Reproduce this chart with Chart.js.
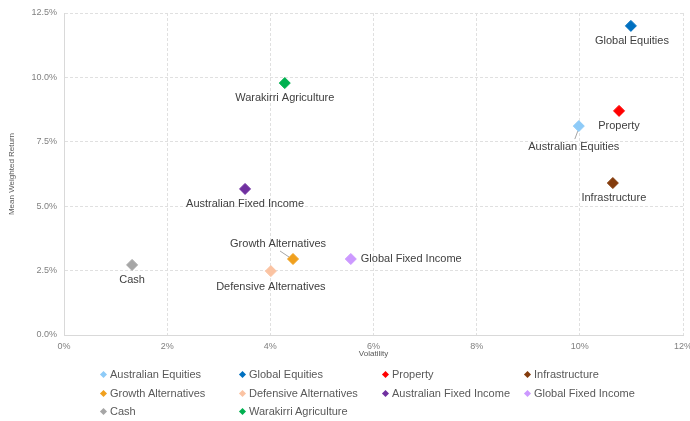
<!DOCTYPE html>
<html>
<head>
<meta charset="utf-8">
<script src="https://cdn.jsdelivr.net/npm/chart.js@4.4.1/dist/chart.umd.min.js"></script>
<style>
  body { margin: 0; background: #fff; }
  #wrap { position: relative; width: 690px; height: 421px; }
  #legend { position: absolute; left: 0; top: 0; width: 690px; height: 421px; pointer-events: none;
            font-family: "Liberation Sans", Arial, sans-serif; font-size: 11px; color: #595959; }
  .item { position: absolute; white-space: nowrap; line-height: 14px; }
  .mark { display: inline-block; width: 5px; height: 5px; transform: rotate(45deg); margin-right: 4px; vertical-align: 1px; }
</style>
</head>
<body>
<div id="wrap">
  <canvas id="riskChart" width="690" height="421"></canvas>
  <div id="legend"></div>
</div>
<script>
// Risk / return scatter
const categories = ['Australian Equities', 'Global Equities', 'Property', 'Infrastructure',
  'Growth Alternatives', 'Defensive Alternatives', 'Australian Fixed Income', 'Global Fixed Income',
  'Cash', 'Warakirri Agriculture'];
const volatility = [9.98, 10.99, 10.76, 10.64, 4.44, 4.01, 3.51, 5.56, 1.32, 4.28];
const meanReturn = [8.11, 12.0, 8.70, 5.90, 2.95, 2.48, 5.67, 2.95, 2.72, 9.78];
const colours = ['#8ecbf8', '#0070c0', '#ff0000', '#843c0c', '#f0a01e', '#fbc3a2',
  '#7030a0', '#cc99ff', '#a6a6a6', '#00b050'];

// where each data label sits relative to its point
const labelPlace = [
  {dx: -5, dy: 21, align: 'center'},
  {dx: 1, dy: 15, align: 'center'},
  {dx: 0, dy: 15, align: 'center'},
  {dx: 1, dy: 15, align: 'center'},
  {dx: -15, dy: -15, align: 'center'},
  {dx: 0, dy: 16, align: 'center'},
  {dx: 0, dy: 15, align: 'center'},
  {dx: 10, dy: 0, align: 'left'},
  {dx: 0, dy: 15, align: 'center'},
  {dx: 0, dy: 15, align: 'center'}
];

const font = '"Liberation Sans", Arial, sans-serif';

// leader lines (label -> point) for the two offset labels
const leaders = {
  id: 'leaders',
  afterDatasetsDraw(chart) {
    const ctx = chart.ctx;
    ctx.save();
    ctx.strokeStyle = '#a6a6a6';
    ctx.lineWidth = 1;
    [0, 4].forEach(i => {
      const pt = chart.getDatasetMeta(i).data[0];
      ctx.beginPath();
      if (i === 0) { ctx.moveTo(pt.x - 4, pt.y + 13); ctx.lineTo(pt.x - 1, pt.y + 5); }
      else { ctx.moveTo(pt.x - 13, pt.y - 8); ctx.lineTo(pt.x - 4, pt.y - 2); }
      ctx.stroke();
    });
    ctx.restore();
  }
};

const dataLabels = {
  id: 'dataLabels',
  afterDatasetsDraw(chart) {
    const ctx = chart.ctx;
    ctx.save();
    ctx.font = '11px ' + font;
    ctx.fillStyle = '#404040';
    ctx.textBaseline = 'middle';
    chart.data.datasets.forEach((ds, i) => {
      const pt = chart.getDatasetMeta(i).data[0];
      const p = labelPlace[i];
      ctx.textAlign = p.align;
      ctx.fillText(ds.label, pt.x + p.dx, pt.y + p.dy);
    });
    ctx.restore();
  }
};

new Chart("riskChart", {
  type: "scatter",
  data: {
    datasets: categories.map((c, i) => ({
      label: c,
      data: [{x: volatility[i], y: meanReturn[i]}],
      backgroundColor: colours[i],
      borderColor: colours[i],
      pointStyle: 'rectRot',
      pointRadius: 5.5,
      pointHoverRadius: 5.5
    }))
  },
  options: {
    responsive: false,
    animation: false,
    layout: { padding: { top: 13, right: 7, bottom: 59, left: 0 } },
    plugins: {
      legend: { display: false },
      tooltip: { enabled: false }
    },
    scales: {
      x: {
        min: 0, max: 12,
        border: { color: '#d9d9d9', dash: [3, 2] },
        grid: { color: '#e0e0e0', drawTicks: false },
        ticks: { stepSize: 2, padding: 6, color: '#808080', font: { family: font, size: 9 },
                 callback: v => v + '%' },
        title: { display: true, text: 'Volatility', color: '#595959',
                 font: { family: font, size: 8 }, padding: { top: 0, bottom: 3 } },
        afterFit(s) { s.height = 27; s.paddingLeft = 0; s.paddingRight = 0; }
      },
      y: {
        min: 0, max: 12.5,
        border: { color: '#d9d9d9', dash: [3, 2] },
        grid: { color: '#e0e0e0', drawTicks: false },
        ticks: { stepSize: 2.5, padding: 7, color: '#808080', font: { family: font, size: 9 },
                 callback: v => v.toFixed(1) + '%' },
        title: { display: true, text: 'Mean Weighted Return', color: '#595959',
                 font: { family: font, size: 8 }, padding: { top: 7, bottom: 0 } },
        afterFit(s) { s.width = 64; s.paddingTop = 0; s.paddingBottom = 0; }
      }
    }
  },
  plugins: [leaders, dataLabels]
});

// legend in four columns
const legendCols = [101, 240, 383, 525];
const legendRows = [367, 385.5, 404];
const legend = document.getElementById('legend');
categories.forEach((c, i) => {
  const d = document.createElement('div');
  d.className = 'item';
  d.style.left = legendCols[i % 4] + 'px';
  d.style.top = legendRows[Math.floor(i / 4)] + 'px';
  d.innerHTML = '<span class="mark" style="background:' + colours[i] + '"></span>' + c;
  legend.appendChild(d);
});
</script>
</body>
</html>
